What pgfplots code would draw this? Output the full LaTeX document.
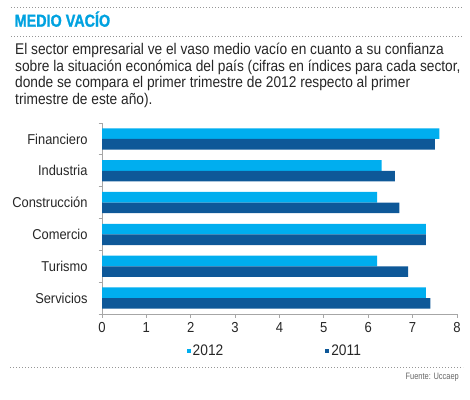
\documentclass[border=0pt]{standalone}
\usepackage{pgfplots}
\pgfplotsset{compat=1.18}
\usepackage{fontspec}
\setmainfont{Liberation Sans}
\newfontfamily\titlefont[FakeStretch=0.83,FakeBold=1.2]{Liberation Sans}
\newfontfamily\condfont[FakeStretch=0.9]{Liberation Sans}
\newfontfamily\subfont[FakeStretch=0.885]{Liberation Sans}
\newfontfamily\srcfont[FakeStretch=0.8]{Liberation Sans}
\definecolor{c2012}{RGB}{0,174,239}
\definecolor{c2011}{RGB}{14,88,152}
\definecolor{titlecyan}{RGB}{0,162,224}
\definecolor{dotgray}{RGB}{150,150,150}
\begin{document}
\begin{tikzpicture}
\path[use as bounding box] (0pt,0pt) rectangle (470pt,-399pt);
\draw[dotgray, line width=0.9pt, dash pattern=on 0.9pt off 2.1pt] (11pt,-7.5pt) -- (462pt,-7.5pt);
\node[anchor=base west, inner sep=0, text=titlecyan, font=\titlefont\bfseries\fontsize{17.3}{18}\selectfont] at (14.5pt,-26.7pt) {MEDIO VACÍO};
\draw[dotgray, line width=0.9pt, dash pattern=on 0.9pt off 2.1pt] (11pt,-36.5pt) -- (462pt,-36.5pt);
\begin{scope}[every node/.style={anchor=base west, inner sep=0, font=\subfont\fontsize{15.5}{17}\selectfont, text=black!85}]
\node at (15pt,-54.3pt) {El sector empresarial ve el vaso medio vacío en cuanto a su confianza};
\node at (15pt,-71pt) {sobre la situación económica del país (cifras en índices para cada sector,};
\node at (15pt,-87.5pt) {donde se compara el primer trimestre de 2012 respecto al primer};
\node at (15pt,-104pt) {trimestre de este año).};
\end{scope}
\begin{axis}[
  at={(102pt,-314pt)}, anchor=south west, scale only axis,
  width=355pt, height=191pt,
  xmin=0, xmax=8, ymin=-0.5, ymax=5.5,
  axis x line*=bottom, axis y line*=left,
  axis line style={-, draw=gray!70, line width=0.8pt},
  xtick={0,...,8},
  ytick={0,...,5},
  yticklabels={Servicios,Turismo,Comercio,Construcción,Industria,Financiero},
  minor ytick={-0.5,0.5,...,5.5},
  major y tick style={draw=none},
  minor y tick style={draw=gray!70, line width=0.8pt},
  major x tick style={draw=gray!70, line width=0.8pt},
  tick align=outside, major tick length=3.5pt, minor tick length=3.5pt,
  /pgf/number format/assume math mode=true,
  x tick label style={font=\condfont\fontsize{14.5}{15}\selectfont, text=black!85, yshift=-1pt},
  y tick label style={font=\condfont\fontsize{14.3}{15}\selectfont, text=black!85, xshift=-7.5pt},
  legend columns=2,
  legend style={draw=none, fill=none, at={(axis description cs:0.238,-0.195)}, anchor=west, inner sep=0pt,
    font=\condfont\fontsize{15.3}{16}\selectfont, text=black!85,
    /tikz/every even column/.style={column sep=100pt}},
  legend image code/.code={\fill[#1] (0pt,-2pt) rectangle (4pt,2pt);},
]
\addplot[xbar, bar width=10.6pt, bar shift=5.3pt, fill=c2012, draw=none]
  coordinates {(7.3,0) (6.2,1) (7.3,2) (6.2,3) (6.3,4) (7.6,5)};
\addlegendentry{2012}
\addplot[xbar, bar width=10.6pt, bar shift=-5.3pt, fill=c2011, draw=none]
  coordinates {(7.4,0) (6.9,1) (7.3,2) (6.7,3) (6.6,4) (7.5,5)};
\addlegendentry{2011}
\end{axis}
\draw[dotgray, line width=0.9pt, dash pattern=on 0.9pt off 2.1pt] (10pt,-367pt) -- (463pt,-367pt);
\node[anchor=base east, inner sep=0, text=black!60, font=\srcfont\fontsize{9.3}{10}\selectfont] at (459pt,-379.3pt) {Fuente: Uccaep};
\end{tikzpicture}
\end{document}
